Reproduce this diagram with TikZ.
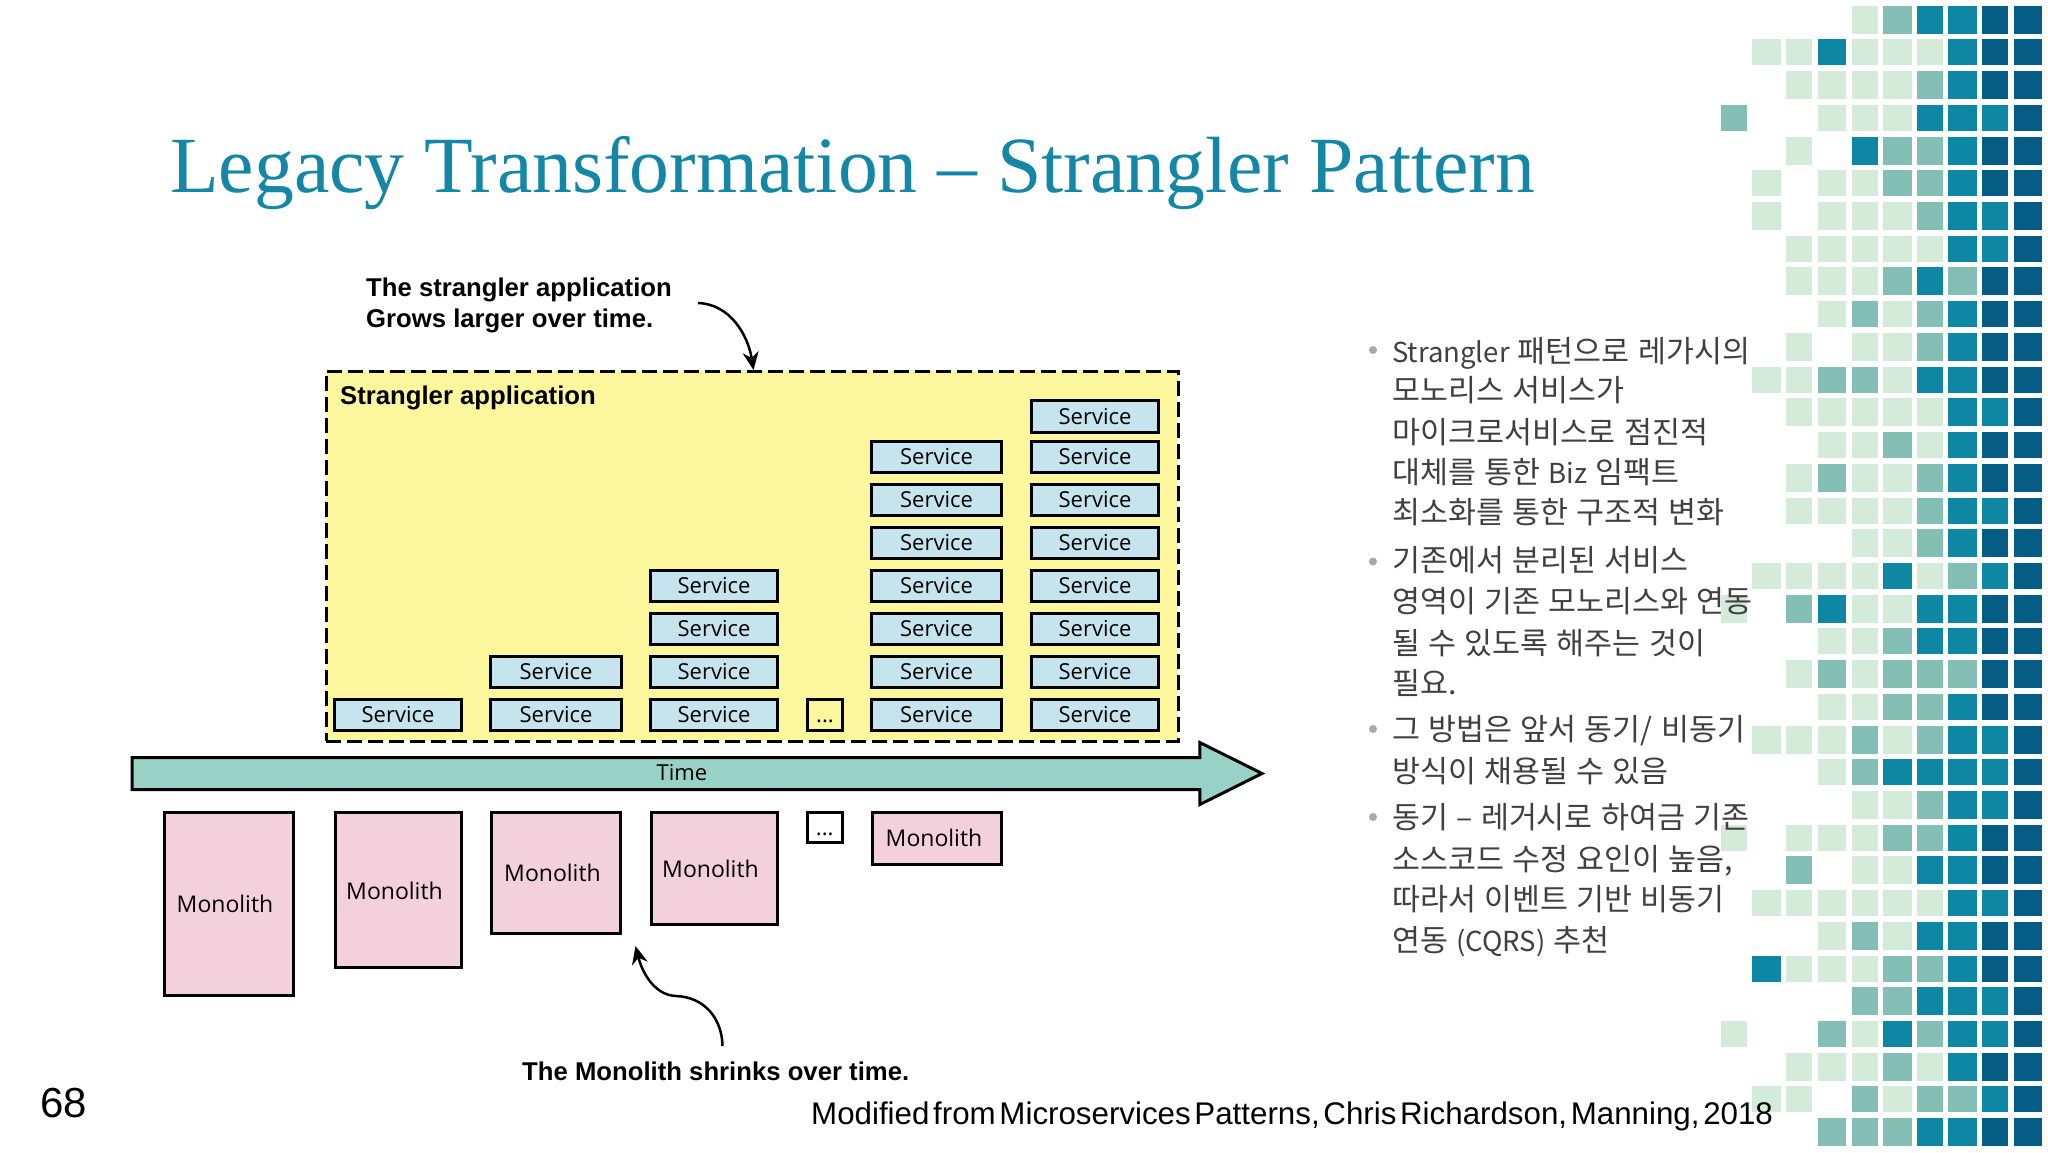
\documentclass[tikz,border=0pt]{standalone}
\usepackage{fontspec}
\usepackage{xcolor}
\usepackage{tikz}
\usetikzlibrary{positioning,arrows.meta,shapes.arrows}

\setmainfont{Liberation Sans}
\newfontfamily\titlefont{Liberation Serif}
\newfontfamily\boxfont{Open Sans}
\newfontfamily\krfont{Noto Sans CJK KR}
\newcommand{\latinpart}[1]{{\fontsize{27.5}{32}\selectfont #1}}

\definecolor{gridl}{HTML}{D5EBDA}
\definecolor{gridm}{HTML}{83BFB5}
\definecolor{gridt}{HTML}{0E87A4}
\definecolor{gridd}{HTML}{055C85}
\definecolor{serviceblue}{HTML}{C5E4EE}
\definecolor{monopink}{HTML}{F3D0DC}
\definecolor{boxyellow}{HTML}{FCF69D}
\definecolor{timegreen}{HTML}{98D2C7}
\definecolor{titleteal}{HTML}{1387A5}
\definecolor{bodygray}{HTML}{404040}
\definecolor{dotgray}{HTML}{A8A8A8}

\begin{document}
\begin{tikzpicture}[x=1pt,y=-1pt]
        % Styles
        \tikzstyle{box} = [rectangle,draw=black,line width=3pt,outer sep=0pt,inner sep=0pt,
        text height=17.5pt,text depth=2pt,font=\fontsize{22}{25}\selectfont\boxfont]
        \tikzstyle{service} = [box,fill=serviceblue,minimum width=127.5pt,minimum height=31.5pt]
        \tikzstyle{servicewide} = [service,minimum width=130.5pt]
        \tikzstyle{dots} = [box,minimum width=35.5pt]
        \tikzstyle{monolith} = [box,fill=monopink,anchor=north west]
        \tikzstyle{monotext} = [font=\fontsize{23}{26}\selectfont\boxfont]
        \tikzstyle{callout} = [anchor=west,align=left,inner sep=0pt,
        font=\fontsize{25.7}{31.5}\selectfont\bfseries]
        \tikzstyle{bullettext} = [anchor=base west,text=bodygray,inner sep=0pt,
        font={\fontsize{30.4}{32}\selectfont\krfont\spaceskip=8.3pt\relax}]
        \tikzstyle{bulletdot} = [circle,fill=dotgray,inner sep=0pt,minimum size=8pt]
        \tikzstyle{curve} = [line width=2.5pt,-{Stealth[length=18pt,width=16pt]}]

        \useasboundingbox (0,0) rectangle (2048,1152);

        % Squares on the right
        \foreach \cells [count=\r from 0] in {
            {e,e,e,e,l,m,t,t,d,d},{e,l,l,t,l,l,l,t,d,d},{e,e,l,l,l,l,m,t,d,d},{m,e,e,l,l,l,t,t,t,d},
            {e,e,l,e,t,m,m,t,d,d},{e,l,e,l,l,m,m,t,d,d},{e,l,e,l,l,l,m,t,t,d},{e,e,l,l,l,l,l,t,t,d},
            {e,e,l,l,l,m,t,m,d,d},{e,e,e,l,m,l,m,t,d,d},{e,e,l,e,l,l,m,t,d,d},{e,l,l,m,m,l,t,t,d,d},
            {e,e,l,l,l,l,l,t,t,d},{e,e,e,l,l,m,l,t,d,d},{e,e,l,m,l,l,m,t,d,d},{e,e,l,l,l,l,m,t,t,d},
            {e,e,e,e,l,l,m,t,d,d},{e,l,l,l,l,t,l,m,t,d},{l,e,m,t,l,l,t,t,d,d},{e,e,e,l,l,m,t,t,d,d},
            {e,e,l,m,l,m,m,m,d,d},{e,e,e,l,l,m,m,t,d,d},{e,l,l,l,m,l,m,t,t,d},{e,e,e,l,m,t,t,t,t,d},
            {e,e,e,e,l,l,m,t,t,d},{l,e,l,l,l,m,m,t,d,d},{e,e,m,e,l,l,t,t,d,d},{e,l,l,l,l,l,l,t,t,d},
            {e,e,e,l,m,l,t,t,d,d},{e,t,l,l,l,m,m,t,d,d},{e,e,e,e,m,m,t,t,t,d},{l,e,e,m,l,t,m,t,t,d},
            {e,e,l,l,l,m,l,t,d,d},{e,l,l,e,m,l,m,m,t,d},{e,e,e,m,m,m,t,t,d,d}} {
            \foreach \k [count=\c from 0] in \cells {
                \if\k e\else
                    \pgfmathsetmacro{\cellw}{isodd(\c)?28.5:26}
                    \pgfmathsetmacro{\cellh}{isodd(\r)?26:28}
                    \pgfmathsetmacro{\cellx}{1734+32.67*\c-\cellw/2}
                    \pgfmathsetmacro{\celly}{19.7+32.72*\r-\cellh/2}
                    \fill[grid\k] (\cellx,\celly) rectangle ++(\cellw,\cellh);
                \fi
            }
        }

        % Title and footer
        \node (title)   [anchor=base west,inner sep=0pt,text=titleteal,
                         font=\fontsize{79.7}{86}\selectfont\titlefont] at (170,192)
                        {Legacy Transformation – Strangler Pattern};
        \node (pageno)  [anchor=west,inner sep=0pt,font=\fontsize{42}{46}\selectfont] at (40,1103) {68};
        \node (source)  [anchor=west,inner sep=0pt,font={\fontsize{31.3}{36}\selectfont\spaceskip=3.7pt\relax}]
                        at (811,1116.5)
                        {Modified from Microservices Patterns, Chris Richardson, Manning, 2018};

        % Strangler application
        \node (strangler) [rectangle,draw=black,fill=boxyellow,line width=3pt,outer sep=0pt,
                           dash pattern=on 15pt off 6pt,anchor=north west,
                           minimum width=852pt,minimum height=370pt] at (326,371) {};
        \node (stranglerlabel) [callout] at (340,398) {Strangler application};
        \node (growlabel)      [callout] at (366,305.5) {The strangler application\\Grows larger over time.};

        % Services, one stack after the other
        \node (a1) [service]               at (398,715) {Service};

        \node (b1) [servicewide]           at (556,715) {Service};
        \node (b2) [servicewide, above=11.5pt of b1] {Service};

        \node (c1) [service]               at (714,715) {Service};
        \node (c2) [service, above=11.5pt of c1] {Service};
        \node (c3) [service, above=11.5pt of c2] {Service};
        \node (c4) [service, above=11.5pt of c3] {Service};

        \node (sdots) [dots,minimum height=31.5pt] at (825,715) {...};

        \node (d1) [servicewide]           at (936.5,715) {Service};
        \node (d2) [servicewide, above=11.5pt of d1] {Service};
        \node (d3) [servicewide, above=11.5pt of d2] {Service};
        \node (d4) [servicewide, above=11.5pt of d3] {Service};
        \node (d5) [servicewide, above=11.5pt of d4] {Service};
        \node (d6) [servicewide, above=11.5pt of d5] {Service};
        \node (d7) [servicewide, above=11.5pt of d6] {Service};

        \node (e1) [service]               at (1095,715) {Service};
        \node (e2) [service, above=11.5pt of e1] {Service};
        \node (e3) [service, above=11.5pt of e2] {Service};
        \node (e4) [service, above=11.5pt of e3] {Service};
        \node (e5) [service, above=11.5pt of e4] {Service};
        \node (e6) [service, above=11.5pt of e5] {Service};
        \node (e7) [service, above=11.5pt of e6] {Service};
        \node (e8) [service, above=9pt of e7]    {Service};

        % Time
        \node (timearrow) [single arrow,draw=black,fill=timegreen,line width=3pt,outer sep=0pt,
                           inner xsep=0pt,inner ysep=14.5pt,anchor=tail,minimum height=1130pt,
                           single arrow head extend=15pt,single arrow tip angle=53] at (132,773.5) {};
        \node (timelabel) [font=\fontsize{22}{25}\selectfont\boxfont] at (682,773) {Time};

        % Monoliths
        \node (m1) [monolith,minimum width=129.5pt,minimum height=183.5pt] at (164,812) {};
        \node (m2) [monolith,minimum width=126.5pt,minimum height=155.5pt] at (335,812) {};
        \node (m3) [monolith,minimum width=129pt,minimum height=121.5pt]   at (491.5,812) {};
        \node (m4) [monolith,minimum width=126pt,minimum height=112.5pt]   at (651,812) {};
        \node (mdots) [box,anchor=north west,minimum width=35.5pt,minimum height=30.5pt] at (807,812) {...};
        \node (m5) [monolith,minimum width=129.5pt,minimum height=52.5pt]  at (872,812) {};

        \node (m1text) [monotext] at (225,904)   {Monolith};
        \node (m2text) [monotext] at (394.5,891) {Monolith};
        \node (m3text) [monotext] at (552.5,873) {Monolith};
        \node (m4text) [monotext] at (710.5,869) {Monolith};
        \node (m5text) [monotext] at (934,838)   {Monolith};

        \node (shrinklabel) [callout] at (522,1071) {The Monolith shrinks over time.};

        % Curved arrows
        \coordinate (growstart)   at (698,303);
        \coordinate (growend)     at (753.5,370);
        \coordinate (shrinkstart) at (722.5,1046);
        \coordinate (shrinkmid)   at (676,996);
        \coordinate (shrinkend)   at (635.5,946);
        \draw[curve] (growstart) .. controls (730,304) and (748,335) .. (growend);
        \draw[curve] (shrinkstart) .. controls (722,1018) and (704,997) .. (shrinkmid)
                     .. controls (652,995) and (641,968) .. (shrinkend);

        % Text on the right
        \node (dot1) [bulletdot] at (1373,350) {};
        \node (dot2) [bulletdot] at (1373,561.5) {};
        \node (dot3) [bulletdot] at (1373,729) {};
        \node (dot4) [bulletdot] at (1373,817) {};
        \foreach \liney/\linetext [count=\n] in {
            362/{\latinpart{Strangler} 패턴으로 레가시의},
            401/{모노리스 서비스가},
            443/{마이크로서비스로 점진적},
            483/{대체를 통한 \latinpart{Biz} 임팩트},
            523/{최소화를 통한 구조적 변화},
            571/{기존에서 분리된 서비스},
            612/{영역이 기존 모노리스와 연동},
            654/{될 수 있도록 해주는 것이},
            694/{필요.},
            740/{그 방법은 앞서 동기/ 비동기},
            782/{방식이 채용될 수 있음},
            828/{동기 – 레거시로 하여금 기존},
            870/{소스코드 수정 요인이 높음,},
            910/{따라서 이벤트 기반 비동기},
            951/{연동 \latinpart{(CQRS)} 추천}} {
            \node (line\n) [bullettext] at (1392,\liney) {\linetext};
        }

    \end{tikzpicture}
\end{document}
